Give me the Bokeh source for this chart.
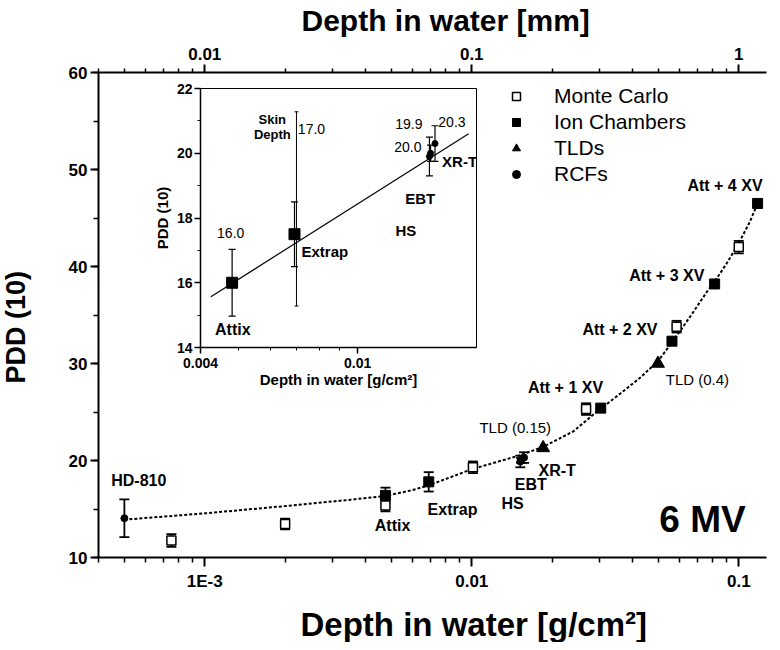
from bokeh.plotting import figure
from bokeh.models import (Range1d, LogScale, LogAxis, FixedTicker, SingleIntervalTicker,
                          CustomJSTickFormatter, ColumnDataSource, Whisker, TeeHead, Label,
                          Legend, LegendItem, Title)
from bokeh.layouts import column
from bokeh.embed import file_html
from bokeh.resources import INLINE

FONT = "Liberation Sans"

# ---------------- data (depth in g/cm^2, PDD) ----------------
mc_x = [7.5e-4, 2.0e-3, 4.75e-3, 0.0101, 0.0268, 0.0585, 0.100]
mc_y = [11.75, 13.45, 15.35, 19.3, 25.3, 33.8, 42.0]
mc_err = [0.65, 0.55, 0.6, 0.6, 0.6, 0.6, 0.65]

ic_x = [4.75e-3, 6.9e-3, 0.0304, 0.0562, 0.0812, 0.1176]
ic_y = [16.4, 17.8, 25.4, 32.3, 38.2, 46.5]
ic_err = [0.8, 1.0, 0.0, 0.0, 0.0, 0.0]

tld_x = [0.0185, 0.0498]
tld_y = [21.3, 30.0]

rcf_x = [5.0e-4, 0.0152, 0.0153, 0.0157]
rcf_y = [14.05, 19.9, 20.0, 20.3]
rcf_err = [1.95, 0.6, 0.25, 0.55]

fit_x = [5.0e-4, 1.0e-3, 2.0e-3, 3.5e-3, 4.75e-3, 6.0e-3, 7.0e-3, 0.010, 0.015, 0.0185,
         0.024, 0.029, 0.036, 0.043, 0.050, 0.056, 0.066, 0.076, 0.081, 0.090, 0.100,
         0.110, 0.1176]
fit_y = [13.9, 14.55, 15.3, 15.95, 16.35, 16.95, 17.5, 19.1, 20.5, 21.4,
         23.0, 24.9, 26.9, 28.6, 30.3, 32.1, 34.9, 37.4, 38.4, 40.3, 42.4,
         44.6, 46.5]

# inset data
inset_ic_x = [0.00481, 0.00692]
inset_ic_y = [16.0, 17.5]
inset_ic_err = [1.03, 1.0]
skin_x = [0.0070]
skin_lo = [15.28]
skin_hi = [21.28]
inset_rcf_x = [0.0152, 0.0153, 0.0157]
inset_rcf_y = [19.9, 20.0, 20.3]
inset_rcf_err = [0.6, 0.25, 0.55]
inset_fit_x = [0.00425, 0.0191]
inset_fit_y = [15.57, 20.6]

# ticks
bottom_ticks = [0.001, 0.01, 0.1]
bottom_tick_labels = ["1E-3", "0.01", "0.1"]
top_ticks = [0.01, 0.1, 1.0]
top_tick_labels = ["0.01", "0.1", "1"]
inset_x_ticks = [0.004, 0.01]
inset_x_tick_labels = ["0.004", "0.01"]

legend_labels = ["Monte Carlo", "Ion Chambers", "TLDs", "RCFs"]

main_labels = [
    ("HD-810", 5.66e-4, 17.89, "bold", "16px"),
    ("Attix", 5.05e-3, 13.3, "bold", "16px"),
    ("Extrap", 8.47e-3, 14.93, "bold", "16px"),
    ("HS", 0.01422, 15.61, "bold", "16px"),
    ("EBT", 0.01663, 17.48, "bold", "16px"),
    ("XR-T", 0.02088, 19.01, "bold", "16px"),
    ("TLD (0.15)", 0.01455, 23.44, "normal", "15px"),
    ("Att + 1 XV", 0.02244, 27.55, "bold", "16px"),
    ("TLD (0.4)", 0.06998, 28.37, "normal", "15px"),
    ("Att + 2 XV", 0.03589, 33.47, "bold", "16px"),
    ("Att + 3 XV", 0.05373, 39.08, "bold", "16px"),
    ("Att + 4 XV", 0.08878, 48.37, "bold", "16px"),
    ("6 MV", 0.0731, 13.91, "bold", "37px"),
]

inset_labels = [
    ("16.0", 0.00477, 17.55, "normal", "14px"),
    ("Attix", 0.00483, 14.55, "bold", "16px"),
    ("Skin", 0.00608, 21.04, "bold", "13px"),
    ("Depth", 0.00608, 20.58, "bold", "13px"),
    ("17.0", 0.00764, 20.74, "normal", "14px"),
    ("Extrap", 0.00826, 16.98, "bold", "15px"),
    ("19.9", 0.01348, 20.89, "normal", "14px"),
    ("20.3", 0.01733, 20.96, "normal", "14px"),
    ("20.0", 0.0134, 20.2, "normal", "14px"),
    ("XR-T", 0.01812, 19.73, "bold", "15px"),
    ("EBT", 0.0144, 18.6, "bold", "15px"),
    ("HS", 0.01325, 17.6, "bold", "15px"),
]

bottom_title = "Depth in water [g/cm²]"
top_title = "Depth in water [mm]"
left_title = "PDD (10)"


def tick_formatter(ticks, labels):
    return CustomJSTickFormatter(args=dict(t=ticks, l=labels), code="""
        for (let i = 0; i < t.length; i++) {
            if (Math.abs(Math.log10(tick) - Math.log10(t[i])) < 1e-6) return l[i];
        }
        return "";
    """)


def minor_logs(lo_exp, hi_exp, scale=1.0):
    return [k * 10.0 ** e * scale for e in range(lo_exp, hi_exp) for k in range(2, 10)]


def style_axis(ax, lab_size, title_size, tick_out, minor_out, line_w, lab_standoff, title_standoff):
    ax.axis_line_width = line_w
    ax.major_tick_line_width = line_w
    ax.minor_tick_line_width = max(1, line_w - 0.5)
    ax.major_tick_in = 0
    ax.major_tick_out = tick_out
    ax.minor_tick_in = 0
    ax.minor_tick_out = minor_out
    ax.major_label_text_font = FONT
    ax.major_label_text_font_style = "bold"
    ax.major_label_text_font_size = lab_size
    ax.major_label_text_color = "black"
    ax.major_label_standoff = lab_standoff
    ax.axis_label_text_font = FONT
    ax.axis_label_text_font_style = "bold"
    ax.axis_label_text_font_size = title_size
    ax.axis_label_text_color = "black"
    ax.axis_label_standoff = title_standoff


def whisker_src(xs, ys, errs):
    rows = [(x, y - e, y + e) for x, y, e in zip(xs, ys, errs) if e > 0]
    return ColumnDataSource(dict(x=[r[0] for r in rows], lower=[r[1] for r in rows],
                                 upper=[r[2] for r in rows]))


def add_whiskers(fig, src, cap, lw):
    w = Whisker(source=src, base="x", lower="lower", upper="upper", dimension="height",
                line_width=lw, line_color="black",
                upper_head=TeeHead(size=cap, line_width=lw, line_color="black"),
                lower_head=TeeHead(size=cap, line_width=lw, line_color="black"))
    fig.add_layout(w)


MAIN_H = 650

# ---------------- main figure (pulled up over the 8px page margin) ----------------
p = figure(width=772, height=MAIN_H, x_axis_type="log", title=None,
           x_range=Range1d(4.0e-4, 0.127), y_range=Range1d(10, 60),
           output_backend="svg", toolbar_location=None,
           min_border_left=97, min_border_right=0, min_border_top=80, min_border_bottom=80)
p.margin = (-8, 0, 0, 0)
p.grid.visible = False
p.outline_line_color = None
p.background_fill_color = "white"
p.border_fill_color = "white"

xa = p.xaxis[0]
xa.ticker = FixedTicker(ticks=bottom_ticks, minor_ticks=minor_logs(-4, 0))
xa.formatter = tick_formatter(bottom_ticks, bottom_tick_labels)
style_axis(xa, "17px", "7px", 9, 5, 2, 5, 0)
xa.axis_label = " "          # small spacer between tick labels and title

ya = p.yaxis[0]
ya.ticker = SingleIntervalTicker(interval=10, num_minor_ticks=2)
style_axis(ya, "17px", "10px", 8, 5, 2, 3, 19)
ya.axis_label = " "          # spacer between tick labels and title

p.extra_x_ranges = {"mm": Range1d(4.0e-3, 1.27)}
p.extra_x_scales = {"mm": LogScale()}
top = LogAxis(x_range_name="mm")
top.ticker = FixedTicker(ticks=top_ticks, minor_ticks=minor_logs(-3, 1))
top.formatter = tick_formatter(top_ticks, top_tick_labels)
style_axis(top, "17px", "30px", 8, 4, 2, 5, 0)
p.add_layout(top, "above")

p.add_layout(Title(text=bottom_title, align="left", offset=202, vertical_align="bottom",
                   standoff=0, text_font=FONT, text_font_style="bold",
                   text_font_size="33px", text_color="black"), "below")
p.add_layout(Title(text=top_title, align="left", offset=203, vertical_align="top",
                   standoff=12, text_font=FONT, text_font_style="bold",
                   text_font_size="30px", text_color="black"), "above")
p.add_layout(Title(text=left_title, align="left", offset=174, vertical_align="top",
                   standoff=0, text_font=FONT, text_font_style="bold",
                   text_font_size="27px", text_color="black"), "left")

p.line(fit_x, fit_y, line_color="black", line_width=2, line_dash="3 2")

add_whiskers(p, whisker_src(mc_x, mc_y, mc_err), 10, 1.8)
add_whiskers(p, whisker_src(ic_x, ic_y, ic_err), 10, 1.8)
add_whiskers(p, whisker_src(rcf_x, rcf_y, rcf_err), 10, 1.8)

r_mc = p.scatter(mc_x, mc_y, marker="square", size=9, fill_color="white",
                 line_color="black", line_width=1.5)
r_ic = p.scatter(ic_x, ic_y, marker="square", size=10, fill_color="black", line_color="black")
r_tld = p.scatter(tld_x, tld_y, marker="triangle", size=13, fill_color="black", line_color="black")
r_rcf = p.scatter(rcf_x, rcf_y, marker="circle", size=7, fill_color="black", line_color="black")

for txt, lx, ly, wt, sz in main_labels:
    p.add_layout(Label(x=lx, y=ly, text=txt, text_align="center", text_baseline="middle",
                       text_font=FONT, text_font_style=wt, text_font_size=sz,
                       text_color="black"))

legend = Legend(items=[LegendItem(label=legend_labels[0], renderers=[r_mc]),
                       LegendItem(label=legend_labels[1], renderers=[r_ic]),
                       LegendItem(label=legend_labels[2], renderers=[r_tld]),
                       LegendItem(label=legend_labels[3], renderers=[r_rcf])],
                location=(408, 371), orientation="vertical",
                glyph_width=20, glyph_height=24, label_height=24, spacing=2,
                label_standoff=28, padding=0, margin=0,
                border_line_color=None, background_fill_alpha=0,
                label_text_font=FONT, label_text_font_size="21px", label_text_color="black")
p.add_layout(legend)

# ---------------- inset figure ----------------
ins = figure(width=380, height=316, x_axis_type="log", title=None,
             x_range=Range1d(0.004, 0.02), y_range=Range1d(14, 22),
             output_backend="svg", toolbar_location=None,
             min_border_left=53, min_border_right=6, min_border_top=10, min_border_bottom=47)
ins.grid.visible = False
ins.background_fill_alpha = 0
ins.border_fill_alpha = 0
ins.outline_line_color = "black"
ins.outline_line_width = 1
ins.margin = (86 - MAIN_H, 0, 0, 102)

ixa = ins.xaxis[0]
ixa.ticker = FixedTicker(ticks=inset_x_ticks, minor_ticks=[0.005, 0.006, 0.007, 0.008, 0.009])
ixa.formatter = tick_formatter(inset_x_ticks, inset_x_tick_labels)
ixa.axis_label = bottom_title
style_axis(ixa, "14px", "15px", 6, 3, 1.5, 4, 0)

iya = ins.yaxis[0]
iya.ticker = SingleIntervalTicker(interval=2, num_minor_ticks=2)
iya.axis_label = left_title
style_axis(iya, "14px", "15px", 6, 3, 1.5, 2, 3)

ins.line(inset_fit_x, inset_fit_y, line_color="black", line_width=1.2)

add_whiskers(ins, ColumnDataSource(dict(x=skin_x, lower=skin_lo, upper=skin_hi)), 4, 1)
add_whiskers(ins, whisker_src(inset_ic_x, inset_ic_y, inset_ic_err), 7, 1.2)
add_whiskers(ins, whisker_src(inset_rcf_x, inset_rcf_y, inset_rcf_err), 7, 1.2)

ins.scatter(inset_ic_x, inset_ic_y, marker="square", size=11, fill_color="black", line_color="black")
ins.scatter(inset_rcf_x, inset_rcf_y, marker="circle", size=6, fill_color="black", line_color="black")

for txt, lx, ly, wt, sz in inset_labels:
    ins.add_layout(Label(x=lx, y=ly, text=txt, text_align="center", text_baseline="middle",
                         text_font=FONT, text_font_style=wt, text_font_size=sz,
                         text_color="black"))

layout = column(p, ins)
open("out.html", "w").write(file_html(layout, INLINE))
